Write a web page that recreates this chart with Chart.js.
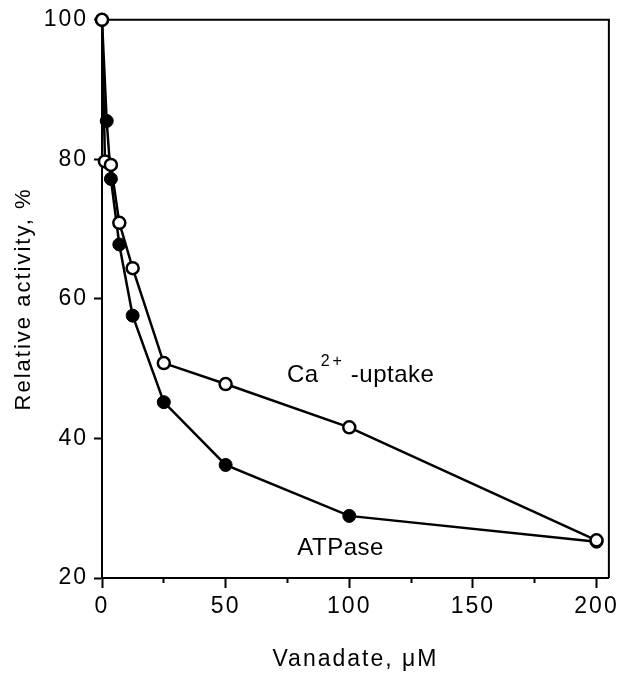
<!DOCTYPE html>
<html>
<head>
<meta charset="utf-8">
<script src="https://cdn.jsdelivr.net/npm/chart.js@4/dist/chart.umd.min.js"></script>
<style>
html,body{margin:0;padding:0;background:#fff;}
#wrap{width:621px;height:673px;position:relative;}
</style>
</head>
<body>
<div id="wrap"><canvas id="c" width="621" height="673"></canvas></div>
<script>
// ---- data ----
const caConc    = [0, 1.2, 3.6, 7.0, 12.4, 25, 50, 100, 200];
const caUptake  = [100, 79.7, 79.2, 70.9, 64.4, 50.8, 47.8, 41.6, 25.4];
const atpConc   = [0, 1.9, 3.6, 7.0, 12.4, 25, 50, 100, 200];
const atpase    = [100, 85.5, 77.2, 67.8, 57.6, 45.2, 36.2, 28.9, 25.2];
const xMajorTicks = [0, 50, 100, 150, 200];
const xMinorTicks = [25, 75, 125, 175];
const yTicks = [20, 40, 60, 80, 100];
const xTitle = 'Vanadate, \u03bcM';
const yTitle = 'Relative activity, %';
const labelCa = {x: 74.8, y: 49.0};
const labelAtp = {x: 79, y: 24.2};

const FONT = "'Liberation Sans', Arial, Helvetica, sans-serif";

const frame = {
  id: 'frame',
  beforeDraw(chart) { chart.ctx.letterSpacing = '2px'; },
  beforeDatasetsDraw(chart) {
    const {ctx, chartArea: a} = chart;
    ctx.save();
    ctx.strokeStyle = '#000';
    ctx.lineWidth = 2;
    ctx.beginPath();
    ctx.moveTo(a.left, a.top);
    ctx.lineTo(a.right, a.top);
    ctx.lineTo(a.right, a.bottom);
    ctx.stroke();
    ctx.restore();
  },
  afterDraw(chart) {
    const {ctx} = chart;
    const xs = chart.scales.x, ys = chart.scales.y;
    ctx.save();
    ctx.letterSpacing = '0.5px';
    ctx.fillStyle = '#000';
    ctx.textBaseline = 'middle';
    ctx.textAlign = 'left';
    // Ca2+-uptake
    let px = xs.getPixelForValue(labelCa.x), py = ys.getPixelForValue(labelCa.y);
    ctx.font = "24px " + FONT;
    ctx.fillText('Ca', px, py);
    let w = ctx.measureText('Ca').width;
    ctx.font = "16px " + FONT;
    ctx.letterSpacing = '3px';
    ctx.fillText('2+', px + w + 2, py - 14.5);
    let w2 = ctx.measureText('2+').width;
    ctx.letterSpacing = '0.5px';
    ctx.font = "24px " + FONT;
    ctx.fillText('-uptake', px + w + w2 + 8, py);
    // ATPase
    px = xs.getPixelForValue(labelAtp.x); py = ys.getPixelForValue(labelAtp.y);
    ctx.fillText('ATPase', px, py);
    ctx.restore();
    chart.ctx.letterSpacing = '0px';
  }
};

new Chart(document.getElementById('c'), {
  type: 'scatter',
  data: {
    datasets: [
      {
        label: 'Ca2+-uptake',
        data: caConc.map((x, i) => ({x, y: caUptake[i]})),
        showLine: true,
        clip: false,
        borderColor: '#000',
        borderWidth: 2.5,
        pointRadius: 6,
        pointBorderWidth: 2.5,
        pointBackgroundColor: '#fff',
        pointBorderColor: '#000',
        order: 0
      },
      {
        label: 'ATPase',
        data: atpConc.map((x, i) => ({x, y: atpase[i]})),
        showLine: true,
        clip: false,
        borderColor: '#000',
        borderWidth: 2.5,
        pointRadius: 6.5,
        pointBorderWidth: 1,
        pointBackgroundColor: '#000',
        pointBorderColor: '#000',
        order: 1
      }
    ]
  },
  options: {
    responsive: false,
    animation: false,
    layout: {padding: {left: 0, top: 16, right: 12, bottom: 0}},
    plugins: {legend: {display: false}, tooltip: {enabled: false}},
    scales: {
      x: {
        type: 'linear', position: 'bottom', weight: 1,
        min: 0, max: 205,
        afterBuildTicks: s => { s.ticks = xMajorTicks.map(v => ({value: v})); },
        afterFit: s => { s.height = 95; },
        grid: {drawOnChartArea: false, drawTicks: true, tickLength: 10, tickWidth: 2, tickColor: '#000'},
        border: {display: true, color: '#000', width: 2},
        ticks: {color: '#000', font: {family: FONT, size: 23}, padding: 5, maxRotation: 0, autoSkip: false},
        title: {display: true, text: xTitle, color: '#000', font: {family: FONT, size: 23}, padding: {top: 17, bottom: 0}}
      },
      x2: {
        type: 'linear', position: 'bottom', weight: 0,
        min: 0, max: 205,
        afterBuildTicks: s => { s.ticks = xMinorTicks.map(v => ({value: v})); },
        afterFit: s => { s.height = 0; },
        grid: {drawOnChartArea: false, drawTicks: true, tickLength: 5, tickWidth: 2, tickColor: '#000'},
        border: {display: false},
        ticks: {display: false}
      },
      y: {
        type: 'linear', position: 'left',
        min: 20, max: 100,
        afterBuildTicks: s => { s.ticks = yTicks.map(v => ({value: v})); },
        afterFit: s => { s.width = 102; },
        grid: {drawOnChartArea: false, drawTicks: true, tickLength: 8, tickWidth: 2, tickColor: '#000'},
        border: {display: true, color: '#000', width: 2},
        ticks: {color: '#000', font: {family: FONT, size: 23}, padding: 6},
        title: {display: true, text: yTitle, color: '#000', font: {family: FONT, size: 22}, padding: {top: 11, bottom: 0}}
      }
    }
  },
  plugins: [frame]
});
</script>
</body>
</html>
